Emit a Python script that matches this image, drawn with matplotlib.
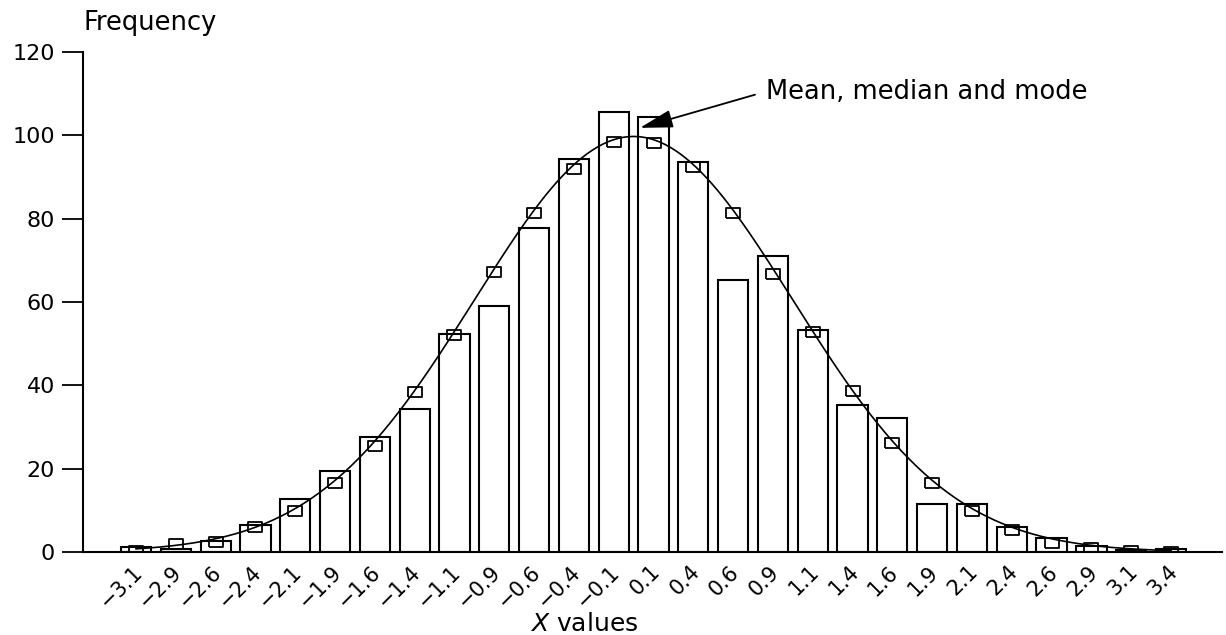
"""Histogram of X values with fitted normal curve."""

import matplotlib.pyplot as plt
import matplotlib.transforms as mtransforms
import numpy as np

plt.rcParams['font.family'] = ['DejaVu Sans']
plt.rcParams['font.size'] = 16
plt.rcParams['mathtext.fontset'] = 'dejavusans'

# bin centres (step 0.25) and their printed labels
bin_centres = [-3.125, -2.875, -2.625, -2.375, -2.125, -1.875, -1.625, -1.375, -1.125,
               -0.875, -0.625, -0.375, -0.125, 0.125, 0.375, 0.625, 0.875, 1.125,
               1.375, 1.625, 1.875, 2.125, 2.375, 2.625, 2.875, 3.125, 3.375]
tick_labels = ['\u22123.1', '\u22122.9', '\u22122.6', '\u22122.4', '\u22122.1', '\u22121.9',
               '\u22121.6', '\u22121.4', '\u22121.1', '\u22120.9', '\u22120.6', '\u22120.4',
               '\u22120.1', '0.1', '0.4', '0.6', '0.9', '1.1',
               '1.4', '1.6', '1.9', '2.1', '2.4', '2.6', '2.9', '3.1', '3.4']

# observed frequencies (bars)
observed = [1.2, 0.8, 2.6, 6.4, 12.7, 19.5, 27.6, 34.3, 52.4,
            59.1, 77.8, 94.4, 105.7, 104.5, 93.6, 65.4, 71.1, 53.3,
            35.4, 32.2, 11.6, 11.6, 5.9, 3.4, 1.4, 0.6, 0.7]

# expected frequencies (open squares)
expected = [0.3, 1.9, 2.5, 6.1, 9.9, 16.6, 25.5, 38.3, 52.1,
            67.1, 81.3, 92.0, 98.5, 98.2, 92.5, 81.3, 66.7, 52.7,
            38.6, 26.2, 16.6, 9.9, 5.4, 2.2, 0.9, 0.2, 0.1]

# fitted normal curve: N * bin width * pdf
n_obs = 1000
bin_width = 0.25
curve_mean = 0.0
curve_sd = 1.0

fig = plt.figure(figsize=(12.26, 6.35), dpi=100)
ax = fig.add_axes([0.0677, 0.1307, 0.929, 0.7874])

ax.bar(bin_centres, observed, width=0.19, color='white', edgecolor='black',
       linewidth=1.5, zorder=1)

xs = np.linspace(bin_centres[0], bin_centres[-1], 400)
curve = n_obs * bin_width * np.exp(-0.5 * ((xs - curve_mean) / curve_sd) ** 2) / (curve_sd * np.sqrt(2 * np.pi))
ax.plot(xs, curve, color='black', linewidth=1.2, zorder=2)

rect = [(-1.3, -1), (1.3, -1), (1.3, 1), (-1.3, 1), (-1.3, -1)]
ax.plot(bin_centres, expected, linestyle='none', marker=rect, markersize=10,
        markerfacecolor='none', markeredgecolor='black', markeredgewidth=1.3, zorder=3)

ax.set_xlim(-3.458, 3.695)
ax.set_ylim(0, 120)
ax.set_yticks([0, 20, 40, 60, 80, 100, 120])
ax.tick_params(axis='y', length=15, width=1.3, pad=5, labelsize=16)
ax.set_xticks(bin_centres)
ax.set_xticklabels(tick_labels, rotation=45, ha='right', va='top', rotation_mode='anchor')
ax.tick_params(axis='x', length=0, pad=7, labelsize=15)

# nudge the rotated labels a little to the left
shift = mtransforms.ScaledTranslation(-4 / 100, 0, fig.dpi_scale_trans)
for lbl in ax.get_xticklabels():
    lbl.set_transform(lbl.get_transform() + shift)

for side in ['top', 'right']:
    ax.spines[side].set_visible(False)
ax.spines['left'].set_linewidth(1.5)
ax.spines['bottom'].set_linewidth(1.5)

fig.text(84 / 1226, 1 - 30 / 635, 'Frequency', ha='left', va='baseline', fontsize=18.5)
fig.text(584 / 1226, 1 - 631 / 635, r'$\mathit{X}$ values', ha='center', va='baseline', fontsize=18)

ax.annotate('Mean, median and mode', xy=(0.04, 101.8), xytext=(0.83, 110.5),
            ha='left', va='center', fontsize=18.5,
            arrowprops=dict(arrowstyle='-|>,head_length=1.1,head_width=0.3',
                            color='black', linewidth=1.3, shrinkA=6, shrinkB=0,
                            relpos=(0, 0.5)))

plt.savefig('out.png', dpi=100)
plt.close()
